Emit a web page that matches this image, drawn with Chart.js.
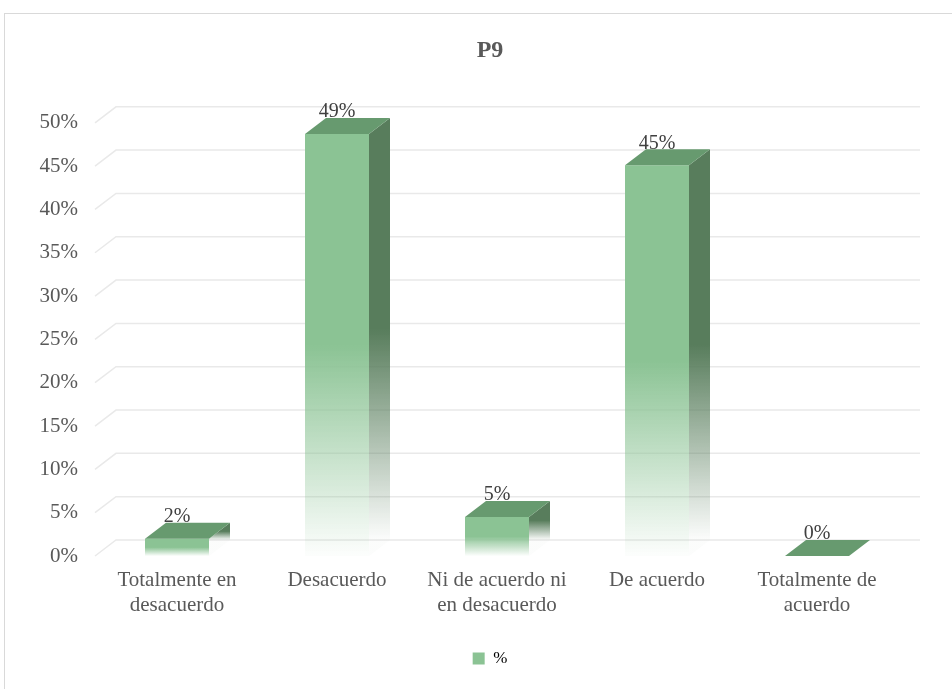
<!DOCTYPE html>
<html>
<head>
<meta charset="utf-8">
<script src="https://cdn.jsdelivr.net/npm/chart.js@4.4.0/dist/chart.umd.min.js"></script>
<style>
    body { margin: 0; background: #fff; overflow: hidden; }
    #wrap { position: relative; width: 952px; height: 689px; }
    #marco { position: absolute; left: 4px; top: 13px; width: 1000px; height: 800px; border: 1px solid #d9d9d9; pointer-events: none; }
</style>
</head>
<body>
<div id="wrap">
    <canvas id="grafico" width="952" height="689"></canvas>
    <div id="marco"></div>
</div>
<script>
const categorias = [
    ['Totalmente en', 'desacuerdo'],
    'Desacuerdo',
    ['Ni de acuerdo ni', 'en desacuerdo'],
    'De acuerdo',
    ['Totalmente de', 'acuerdo']
];
const porcentajes = [2.0, 48.7, 4.5, 45.1, 0];
const nombreSerie = '%';

const verdeFrente = '#8BC394';
const verdeTope = '#679A6F';
const verdeLado = '#587D5C';
const profX = 21;
const profY = -16;
const fuente = 'Liberation Serif';

function colorFrente(context) {
    const chart = context.chart;
    if (!chart.chartArea || context.dataIndex === undefined) return verdeFrente;
    const y = chart.scales.y;
    const valor = context.dataset.data[context.dataIndex];
    const arriba = y.getPixelForValue(valor);
    const abajo = y.getPixelForValue(0);
    if (abajo - arriba < 1) return verdeFrente;
    const g = chart.ctx.createLinearGradient(0, arriba, 0, abajo);
    g.addColorStop(0, verdeFrente);
    g.addColorStop(0.5, verdeFrente);
    g.addColorStop(1, 'rgba(139,195,148,0.02)');
    return g;
}

// lineas de fondo en perspectiva
const fondo3d = {
    id: 'fondo3d',
    beforeDatasetsDraw(chart) {
        const { ctx, chartArea, scales } = chart;
        ctx.save();
        ctx.strokeStyle = '#e9e9e9';
        ctx.lineWidth = 1.5;
        scales.y.ticks.forEach(t => {
            const yy = scales.y.getPixelForValue(t.value);
            ctx.beginPath();
            ctx.moveTo(chartArea.left - 2, yy);
            ctx.lineTo(chartArea.left - 2 + profX, yy + profY);
            ctx.lineTo(chartArea.right + profX + 2, yy + profY);
            ctx.stroke();
        });
        ctx.restore();
    }
};

// caras lateral y superior + etiquetas
const barras3d = {
    id: 'barras3d',
    afterDatasetsDraw(chart) {
        const { ctx } = chart;
        const meta = chart.getDatasetMeta(0);
        ctx.save();
        meta.data.forEach((bar, i) => {
            const p = bar.getProps(['x', 'y', 'base', 'width'], true);
            const x0 = p.x - p.width / 2;
            const x1 = p.x + p.width / 2;
            const arriba = p.y;
            const abajo = p.base;

            if (abajo - arriba > 0.5) {
                const g = ctx.createLinearGradient(0, arriba + profY, 0, abajo + profY);
                g.addColorStop(0, verdeLado);
                g.addColorStop(0.5, verdeLado);
                g.addColorStop(1, 'rgba(88,125,92,0.02)');
                ctx.fillStyle = g;
                ctx.beginPath();
                ctx.moveTo(x1, arriba);
                ctx.lineTo(x1 + profX, arriba + profY);
                ctx.lineTo(x1 + profX, abajo + profY);
                ctx.lineTo(x1, abajo);
                ctx.closePath();
                ctx.fill();
            }

            ctx.fillStyle = verdeTope;
            ctx.beginPath();
            ctx.moveTo(x0, arriba);
            ctx.lineTo(x1, arriba);
            ctx.lineTo(x1 + profX, arriba + profY);
            ctx.lineTo(x0 + profX, arriba + profY);
            ctx.closePath();
            ctx.fill();
        });

        ctx.fillStyle = '#404040';
        ctx.font = '20px "' + fuente + '"';
        ctx.textAlign = 'center';
        ctx.textBaseline = 'middle';
        meta.data.forEach((bar, i) => {
            const p = bar.getProps(['x', 'y'], true);
            ctx.fillText(Math.round(porcentajes[i]) + '%', p.x, p.y - 22);
        });
        ctx.restore();
    }
};

const ctx = document.getElementById('grafico').getContext('2d');

new Chart(ctx, {
    type: 'bar',
    data: {
        labels: categorias,
        datasets: [{
            label: nombreSerie,
            data: porcentajes,
            backgroundColor: colorFrente,
            borderWidth: 0,
            categoryPercentage: 0.8,
            barPercentage: 0.5
        }]
    },
    options: {
        responsive: false,
        animation: false,
        layout: { padding: { left: 28, right: 0, top: 0, bottom: 12 } },
        plugins: {
            title: {
                display: true,
                text: 'P9',
                color: '#595959',
                font: { family: fuente, size: 24, weight: 'bold' },
                padding: { top: 36, bottom: 58 }
            },
            legend: {
                position: 'bottom',
                labels: {
                    color: '#595959',
                    font: { family: fuente, size: 17 },
                    boxWidth: 12,
                    boxHeight: 12,
                    padding: 23,
                    generateLabels: () => [{
                        text: nombreSerie,
                        fillStyle: verdeFrente,
                        strokeStyle: verdeFrente,
                        lineWidth: 0,
                        datasetIndex: 0
                    }]
                }
            },
            tooltip: { enabled: false }
        },
        scales: {
            x: {
                grid: { display: false, drawTicks: false },
                border: { display: false },
                ticks: {
                    color: '#595959',
                    font: { family: fuente, size: 21, lineHeight: 1.2 },
                    padding: 12,
                    maxRotation: 0,
                    autoSkip: false
                },
                afterFit: s => { s.height = 71; }
            },
            y: {
                min: 0,
                max: 50,
                grid: { display: false, drawTicks: false },
                border: { display: false },
                ticks: {
                    stepSize: 5,
                    color: '#595959',
                    font: { family: fuente, size: 21 },
                    padding: 19,
                    callback: v => v + '%'
                },
                afterFit: s => { s.width = 69; }
            },
            margenDer: {
                type: 'linear',
                position: 'right',
                display: true,
                grid: { display: false, drawTicks: false },
                border: { display: false },
                ticks: { display: false },
                afterFit: s => { s.width = 55; }
            }
        }
    },
    plugins: [fondo3d, barras3d]
});
</script>
</body>
</html>
